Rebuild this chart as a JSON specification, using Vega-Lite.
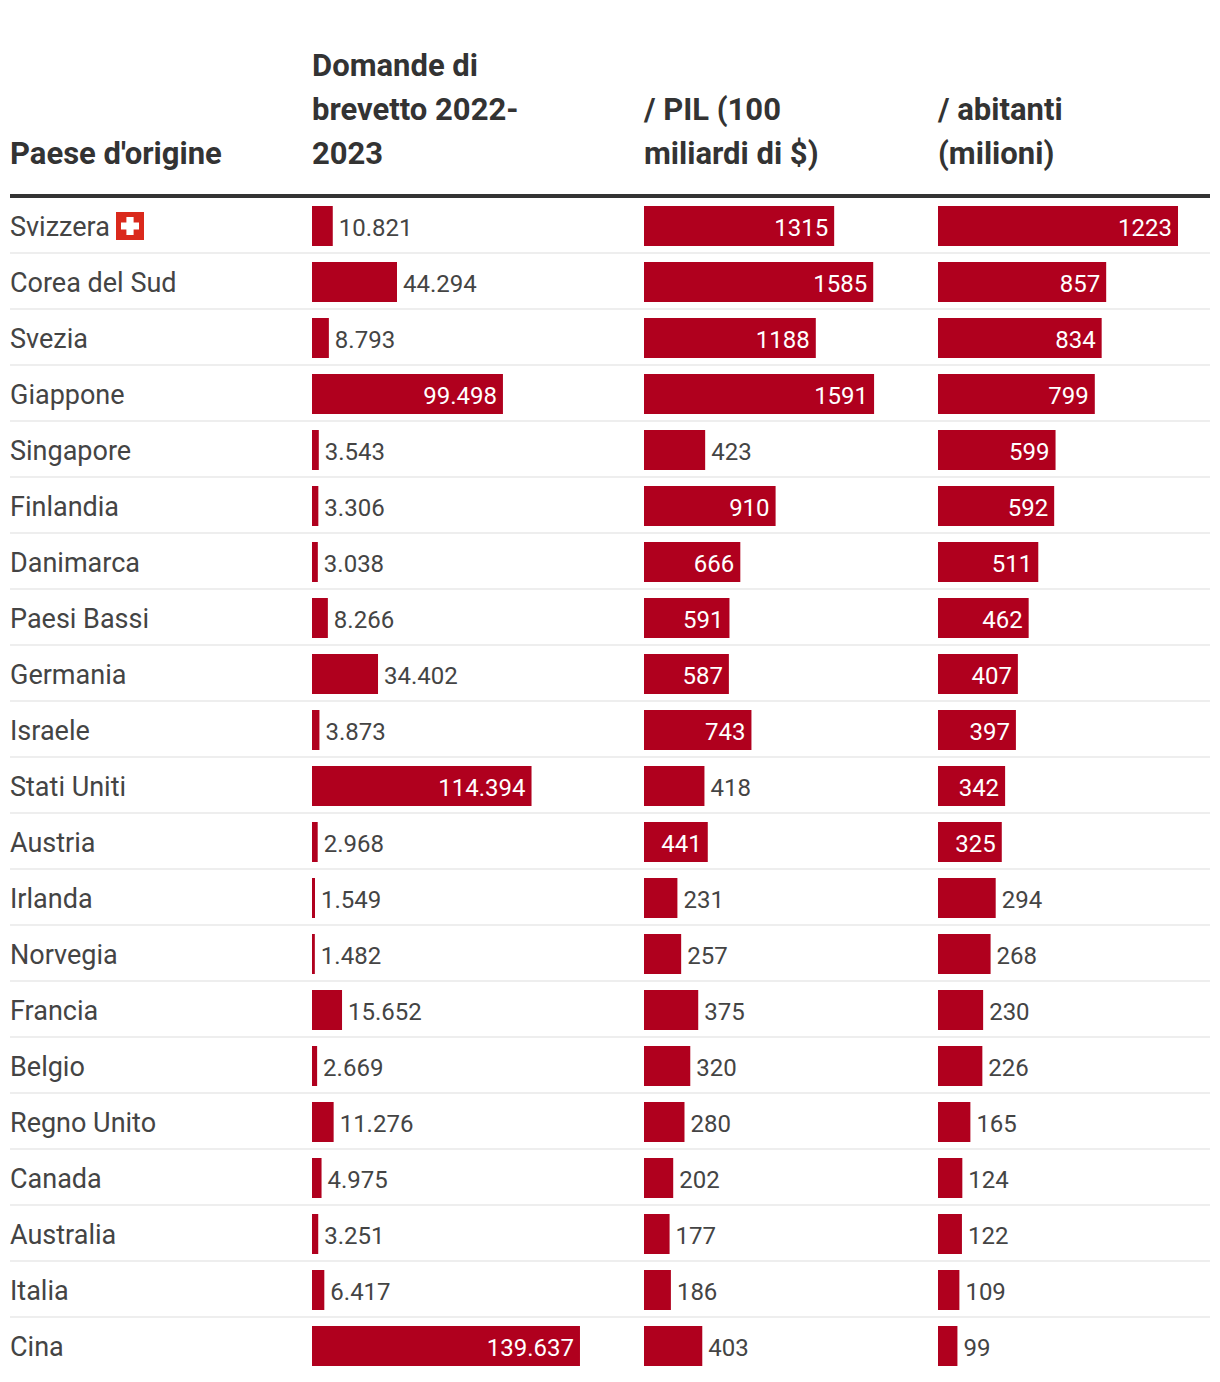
{"$schema":"https://vega.github.io/schema/vega-lite/v6.json","background":"white","padding":{"left":8,"right":10,"top":51,"bottom":8},"autosize":{"type":"pad"},"spacing":0,"bounds":"flush","config":{"view":{"stroke":null},"concat":{"spacing":0},"locale":{"number":{"decimal":",","thousands":".","grouping":[3],"currency":["","$"]}},"title":{"font":"Roboto","fontSize":31,"fontWeight":700,"color":"#333333","anchor":"start","frame":"group","lineHeight":44,"offset":23},"text":{"font":"Roboto","fontSize":24}},"datasets":{"rows":[{"paese":"Svizzera","domande":10821,"pil":1315,"abitanti":1223},{"paese":"Corea del Sud","domande":44294,"pil":1585,"abitanti":857},{"paese":"Svezia","domande":8793,"pil":1188,"abitanti":834},{"paese":"Giappone","domande":99498,"pil":1591,"abitanti":799},{"paese":"Singapore","domande":3543,"pil":423,"abitanti":599},{"paese":"Finlandia","domande":3306,"pil":910,"abitanti":592},{"paese":"Danimarca","domande":3038,"pil":666,"abitanti":511},{"paese":"Paesi Bassi","domande":8266,"pil":591,"abitanti":462},{"paese":"Germania","domande":34402,"pil":587,"abitanti":407},{"paese":"Israele","domande":3873,"pil":743,"abitanti":397},{"paese":"Stati Uniti","domande":114394,"pil":418,"abitanti":342},{"paese":"Austria","domande":2968,"pil":441,"abitanti":325},{"paese":"Irlanda","domande":1549,"pil":231,"abitanti":294},{"paese":"Norvegia","domande":1482,"pil":257,"abitanti":268},{"paese":"Francia","domande":15652,"pil":375,"abitanti":230},{"paese":"Belgio","domande":2669,"pil":320,"abitanti":226},{"paese":"Regno Unito","domande":11276,"pil":280,"abitanti":165},{"paese":"Canada","domande":4975,"pil":202,"abitanti":124},{"paese":"Australia","domande":3251,"pil":177,"abitanti":122},{"paese":"Italia","domande":6417,"pil":186,"abitanti":109},{"paese":"Cina","domande":139637,"pil":403,"abitanti":99}]},"hconcat":[{"width":302,"height":1176,"data":{"name":"rows"},"title":{"text":["Paese d'origine"]},"encoding":{"y":{"field":"paese","type":"nominal","sort":null,"axis":null,"scale":{"paddingInner":0,"paddingOuter":0}}},"layer":[{"mark":{"type":"rule","color":"#eeeeee","strokeWidth":2,"yOffset":-1},"transform":[{"filter":"datum.paese!=='Cina'"}],"encoding":{"y":{"field":"paese","type":"nominal","sort":null,"bandPosition":1,"axis":null}}},{"mark":{"type":"rule","color":"#333333","strokeWidth":4,"yOffset":-2},"transform":[{"filter":"datum.paese==='Svizzera'"}],"encoding":{"y":{"field":"paese","type":"nominal","sort":null,"bandPosition":0,"axis":null}}},{"mark":{"type":"text","align":"left","baseline":"middle","dy":1.5,"color":"#444444","fontSize":27},"encoding":{"x":{"value":0},"text":{"field":"paese"}}},{"mark":{"type":"point","shape":"square","filled":true,"color":"#da291c","size":784,"opacity":1},"transform":[{"filter":"datum.paese==='Svizzera'"}],"encoding":{"x":{"value":120}}},{"mark":{"type":"point","shape":"cross","filled":true,"color":"#ffffff","size":324,"opacity":1},"transform":[{"filter":"datum.paese==='Svizzera'"}],"encoding":{"x":{"value":120}}}]},{"width":332,"height":1176,"data":{"name":"rows"},"title":{"text":["Domande di","brevetto 2022-","2023"]},"encoding":{"y":{"field":"paese","type":"nominal","sort":null,"axis":null,"scale":{"paddingInner":0,"paddingOuter":0}},"x":{"field":"domande","type":"quantitative","axis":null,"scale":{"domain":[0,173000],"nice":false,"zero":true}}},"layer":[{"mark":{"type":"rule","color":"#eeeeee","strokeWidth":2,"yOffset":-1},"transform":[{"filter":"datum.paese!=='Cina'"}],"encoding":{"x":{},"y":{"field":"paese","type":"nominal","sort":null,"bandPosition":1,"axis":null}}},{"mark":{"type":"rule","color":"#333333","strokeWidth":4,"yOffset":-2},"transform":[{"filter":"datum.paese==='Svizzera'"}],"encoding":{"x":{},"y":{"field":"paese","type":"nominal","sort":null,"bandPosition":0,"axis":null}}},{"mark":{"type":"bar","color":"#b0001e","size":40}},{"mark":{"type":"text","align":"left","baseline":"middle","dx":6,"dy":3,"color":"#444444"},"transform":[{"filter":"datum.domande<90000"}],"encoding":{"text":{"field":"domande","type":"quantitative","format":",d"}}},{"mark":{"type":"text","align":"right","baseline":"middle","dx":-6,"dy":3,"color":"#ffffff"},"transform":[{"filter":"datum.domande>=90000"}],"encoding":{"text":{"field":"domande","type":"quantitative","format":",d"}}}]},{"width":294,"height":1176,"data":{"name":"rows"},"title":{"text":["/ PIL (100","miliardi di $)"]},"encoding":{"y":{"field":"paese","type":"nominal","sort":null,"axis":null,"scale":{"paddingInner":0,"paddingOuter":0}},"x":{"field":"pil","type":"quantitative","axis":null,"scale":{"domain":[0,2033],"nice":false,"zero":true}}},"layer":[{"mark":{"type":"rule","color":"#eeeeee","strokeWidth":2,"yOffset":-1},"transform":[{"filter":"datum.paese!=='Cina'"}],"encoding":{"x":{},"y":{"field":"paese","type":"nominal","sort":null,"bandPosition":1,"axis":null}}},{"mark":{"type":"rule","color":"#333333","strokeWidth":4,"yOffset":-2},"transform":[{"filter":"datum.paese==='Svizzera'"}],"encoding":{"x":{},"y":{"field":"paese","type":"nominal","sort":null,"bandPosition":0,"axis":null}}},{"mark":{"type":"bar","color":"#b0001e","size":40}},{"mark":{"type":"text","align":"left","baseline":"middle","dx":6,"dy":3,"color":"#444444"},"transform":[{"filter":"datum.pil<430"}],"encoding":{"text":{"field":"pil","type":"quantitative","format":"d"}}},{"mark":{"type":"text","align":"right","baseline":"middle","dx":-6,"dy":3,"color":"#ffffff"},"transform":[{"filter":"datum.pil>=430"}],"encoding":{"text":{"field":"pil","type":"quantitative","format":"d"}}}]},{"width":272,"height":1176,"data":{"name":"rows"},"title":{"text":["/ abitanti","(milioni)"]},"encoding":{"y":{"field":"paese","type":"nominal","sort":null,"axis":null,"scale":{"paddingInner":0,"paddingOuter":0}},"x":{"field":"abitanti","type":"quantitative","axis":null,"scale":{"domain":[0,1386],"nice":false,"zero":true}}},"layer":[{"mark":{"type":"rule","color":"#eeeeee","strokeWidth":2,"yOffset":-1},"transform":[{"filter":"datum.paese!=='Cina'"}],"encoding":{"x":{},"y":{"field":"paese","type":"nominal","sort":null,"bandPosition":1,"axis":null}}},{"mark":{"type":"rule","color":"#333333","strokeWidth":4,"yOffset":-2},"transform":[{"filter":"datum.paese==='Svizzera'"}],"encoding":{"x":{},"y":{"field":"paese","type":"nominal","sort":null,"bandPosition":0,"axis":null}}},{"mark":{"type":"bar","color":"#b0001e","size":40}},{"mark":{"type":"text","align":"left","baseline":"middle","dx":6,"dy":3,"color":"#444444"},"transform":[{"filter":"datum.abitanti<300"}],"encoding":{"text":{"field":"abitanti","type":"quantitative","format":"d"}}},{"mark":{"type":"text","align":"right","baseline":"middle","dx":-6,"dy":3,"color":"#ffffff"},"transform":[{"filter":"datum.abitanti>=300"}],"encoding":{"text":{"field":"abitanti","type":"quantitative","format":"d"}}}]}]}
